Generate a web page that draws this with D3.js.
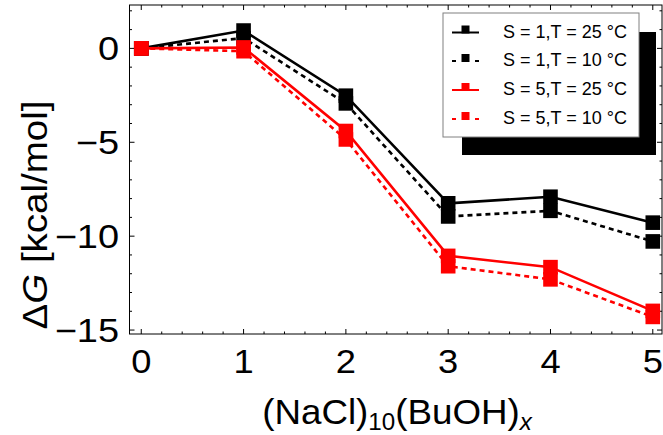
<!DOCTYPE html>
<html><head><meta charset="utf-8">
<script src="https://cdn.jsdelivr.net/npm/d3@7"></script>
<style>body{margin:0;background:#fff}svg{display:block}text{font-family:Arial,"Liberation Sans",sans-serif}</style>
</head><body>
<svg id="c" width="663" height="435"></svg>
<script>
const xs = [0, 1, 2, 3, 4, 5];
const s1t25 = [0, 0.95, -2.52, -8.25, -7.9, -9.28];
const s1t10 = [0, 0.55, -2.93, -8.95, -8.65, -10.28];
const s5t25 = [0, 0.05, -4.4, -11.05, -11.65, -13.98];
const s5t10 = [0, -0.15, -4.85, -11.6, -12.3, -14.3];
const seriesNames = ["S = 1,T = 25 °C", "S = 1,T = 10 °C", "S = 5,T = 25 °C", "S = 5,T = 10 °C"];
const seriesColors = ["#000000", "#000000", "#ff0000", "#ff0000"];
const seriesDashed = [false, true, false, true];
const xTicks = [0, 1, 2, 3, 4, 5];
const yTicks = [0, -5, -10, -15];

const svg = d3.select("#c");
const L = 129.5, R = 662, T = 5, B = 334;
const x = d3.scaleLinear().domain([-0.115, 5.09]).range([L, R]);
const y = d3.scaleLinear().domain([-15.21, 2.31]).range([B, T]);

const allSeries = [s1t25, s1t10, s5t25, s5t10];

// frame
svg.append("rect").attr("x", L).attr("y", T).attr("width", R - L).attr("height", B - T)
  .attr("fill", "none").attr("stroke", "#000").attr("stroke-width", 1);

// ticks
const xMinor = d3.range(0, 5.0001, 0.2).filter(v => Math.abs(v - Math.round(v)) > 1e-6);
const yMinor = d3.range(-15, 2.001, 1).filter(v => v % 5 !== 0);
const tg = svg.append("g").attr("stroke", "#000").attr("stroke-width", 1);
xTicks.forEach(v => {
  tg.append("line").attr("x1", x(v)).attr("x2", x(v)).attr("y1", B).attr("y2", B - 5);
  tg.append("line").attr("x1", x(v)).attr("x2", x(v)).attr("y1", T).attr("y2", T + 5);
});
xMinor.forEach(v => {
  tg.append("line").attr("x1", x(v)).attr("x2", x(v)).attr("y1", B).attr("y2", B - 2.5);
  tg.append("line").attr("x1", x(v)).attr("x2", x(v)).attr("y1", T).attr("y2", T + 2.5);
});
yTicks.forEach(v => {
  tg.append("line").attr("y1", y(v)).attr("y2", y(v)).attr("x1", L).attr("x2", L + 5);
  tg.append("line").attr("y1", y(v)).attr("y2", y(v)).attr("x1", R).attr("x2", R - 5);
});
yMinor.forEach(v => {
  tg.append("line").attr("y1", y(v)).attr("y2", y(v)).attr("x1", L).attr("x2", L + 2.5);
  tg.append("line").attr("y1", y(v)).attr("y2", y(v)).attr("x1", R).attr("x2", R - 2.5);
});

// tick labels
xTicks.forEach(v => {
  svg.append("text").attr("transform", `translate(${x(v)},373) scale(1.1,1)`).attr("text-anchor", "middle")
    .attr("font-size", 33).text(v);
});
yTicks.forEach(v => {
  svg.append("text").attr("transform", `translate(119,${y(v)}) scale(1.15,1)`).attr("dy", "0.35em").attr("text-anchor", "end")
    .attr("font-size", 33).text(v === 0 ? "0" : "\u2212" + Math.abs(v));
});

// axis titles
const xt = svg.append("text").attr("transform", "translate(397,424) scale(1.05,1)").attr("text-anchor", "middle").attr("font-size", 35);
xt.append("tspan").text("(NaCl)");
xt.append("tspan").attr("font-size", 23).attr("dy", 6).text("10");
xt.append("tspan").attr("dy", -6).text("(BuOH)");
xt.append("tspan").attr("font-size", 23).attr("dy", 6).attr("font-style", "italic").text("x");

const yt = svg.append("text").attr("transform", "translate(47,215) rotate(-90) scale(1.1,1)").attr("text-anchor", "middle").attr("font-size", 35);
yt.append("tspan").text("\u0394");
yt.append("tspan").attr("font-style", "italic").text("G");
yt.append("tspan").text(" [kcal/mol]");

// data
const line = d3.line().x((d, i) => x(xs[i])).y(d => y(d));
const ms = 14.6;
allSeries.forEach((s, k) => {
  svg.append("path").datum(s).attr("d", line).attr("fill", "none")
    .attr("stroke", seriesColors[k]).attr("stroke-width", 2.6)
    .attr("stroke-dasharray", seriesDashed[k] ? "5,4" : null);
  svg.append("g").selectAll("rect").data(s).join("rect")
    .attr("x", (d, i) => x(xs[i]) - ms / 2).attr("y", d => y(d) - ms / 2)
    .attr("width", ms).attr("height", ms).attr("fill", seriesColors[k]);
});

// legend
const lx = 443, ly = 13, lw = 196, lh = 124;
svg.append("rect").attr("x", lx + 19).attr("y", ly + 19).attr("width", lw - 2).attr("height", lh - 1).attr("fill", "#000");
svg.append("rect").attr("x", lx).attr("y", ly).attr("width", lw).attr("height", lh)
  .attr("fill", "#fff").attr("stroke", "#808080").attr("stroke-width", 1);
const rowY = [32.5, 61, 90, 119];
seriesNames.forEach((n, k) => {
  const g = svg.append("g");
  const yy = rowY[k];
  if (seriesDashed[k]) {
    g.append("line").attr("x1", 452).attr("x2", 456).attr("y1", yy).attr("y2", yy).attr("stroke", seriesColors[k]).attr("stroke-width", 2);
    g.append("line").attr("x1", 475).attr("x2", 479).attr("y1", yy).attr("y2", yy).attr("stroke", seriesColors[k]).attr("stroke-width", 2);
  } else {
    g.append("line").attr("x1", 452).attr("x2", 479).attr("y1", yy).attr("y2", yy).attr("stroke", seriesColors[k]).attr("stroke-width", 2);
  }
  g.append("rect").attr("x", 461.5).attr("y", yy - 7).attr("width", 8).attr("height", 8).attr("fill", seriesColors[k]);
  g.append("text").attr("x", 503).attr("y", yy + 5).attr("font-size", 18).text(n);
});
</script>
</body></html>
